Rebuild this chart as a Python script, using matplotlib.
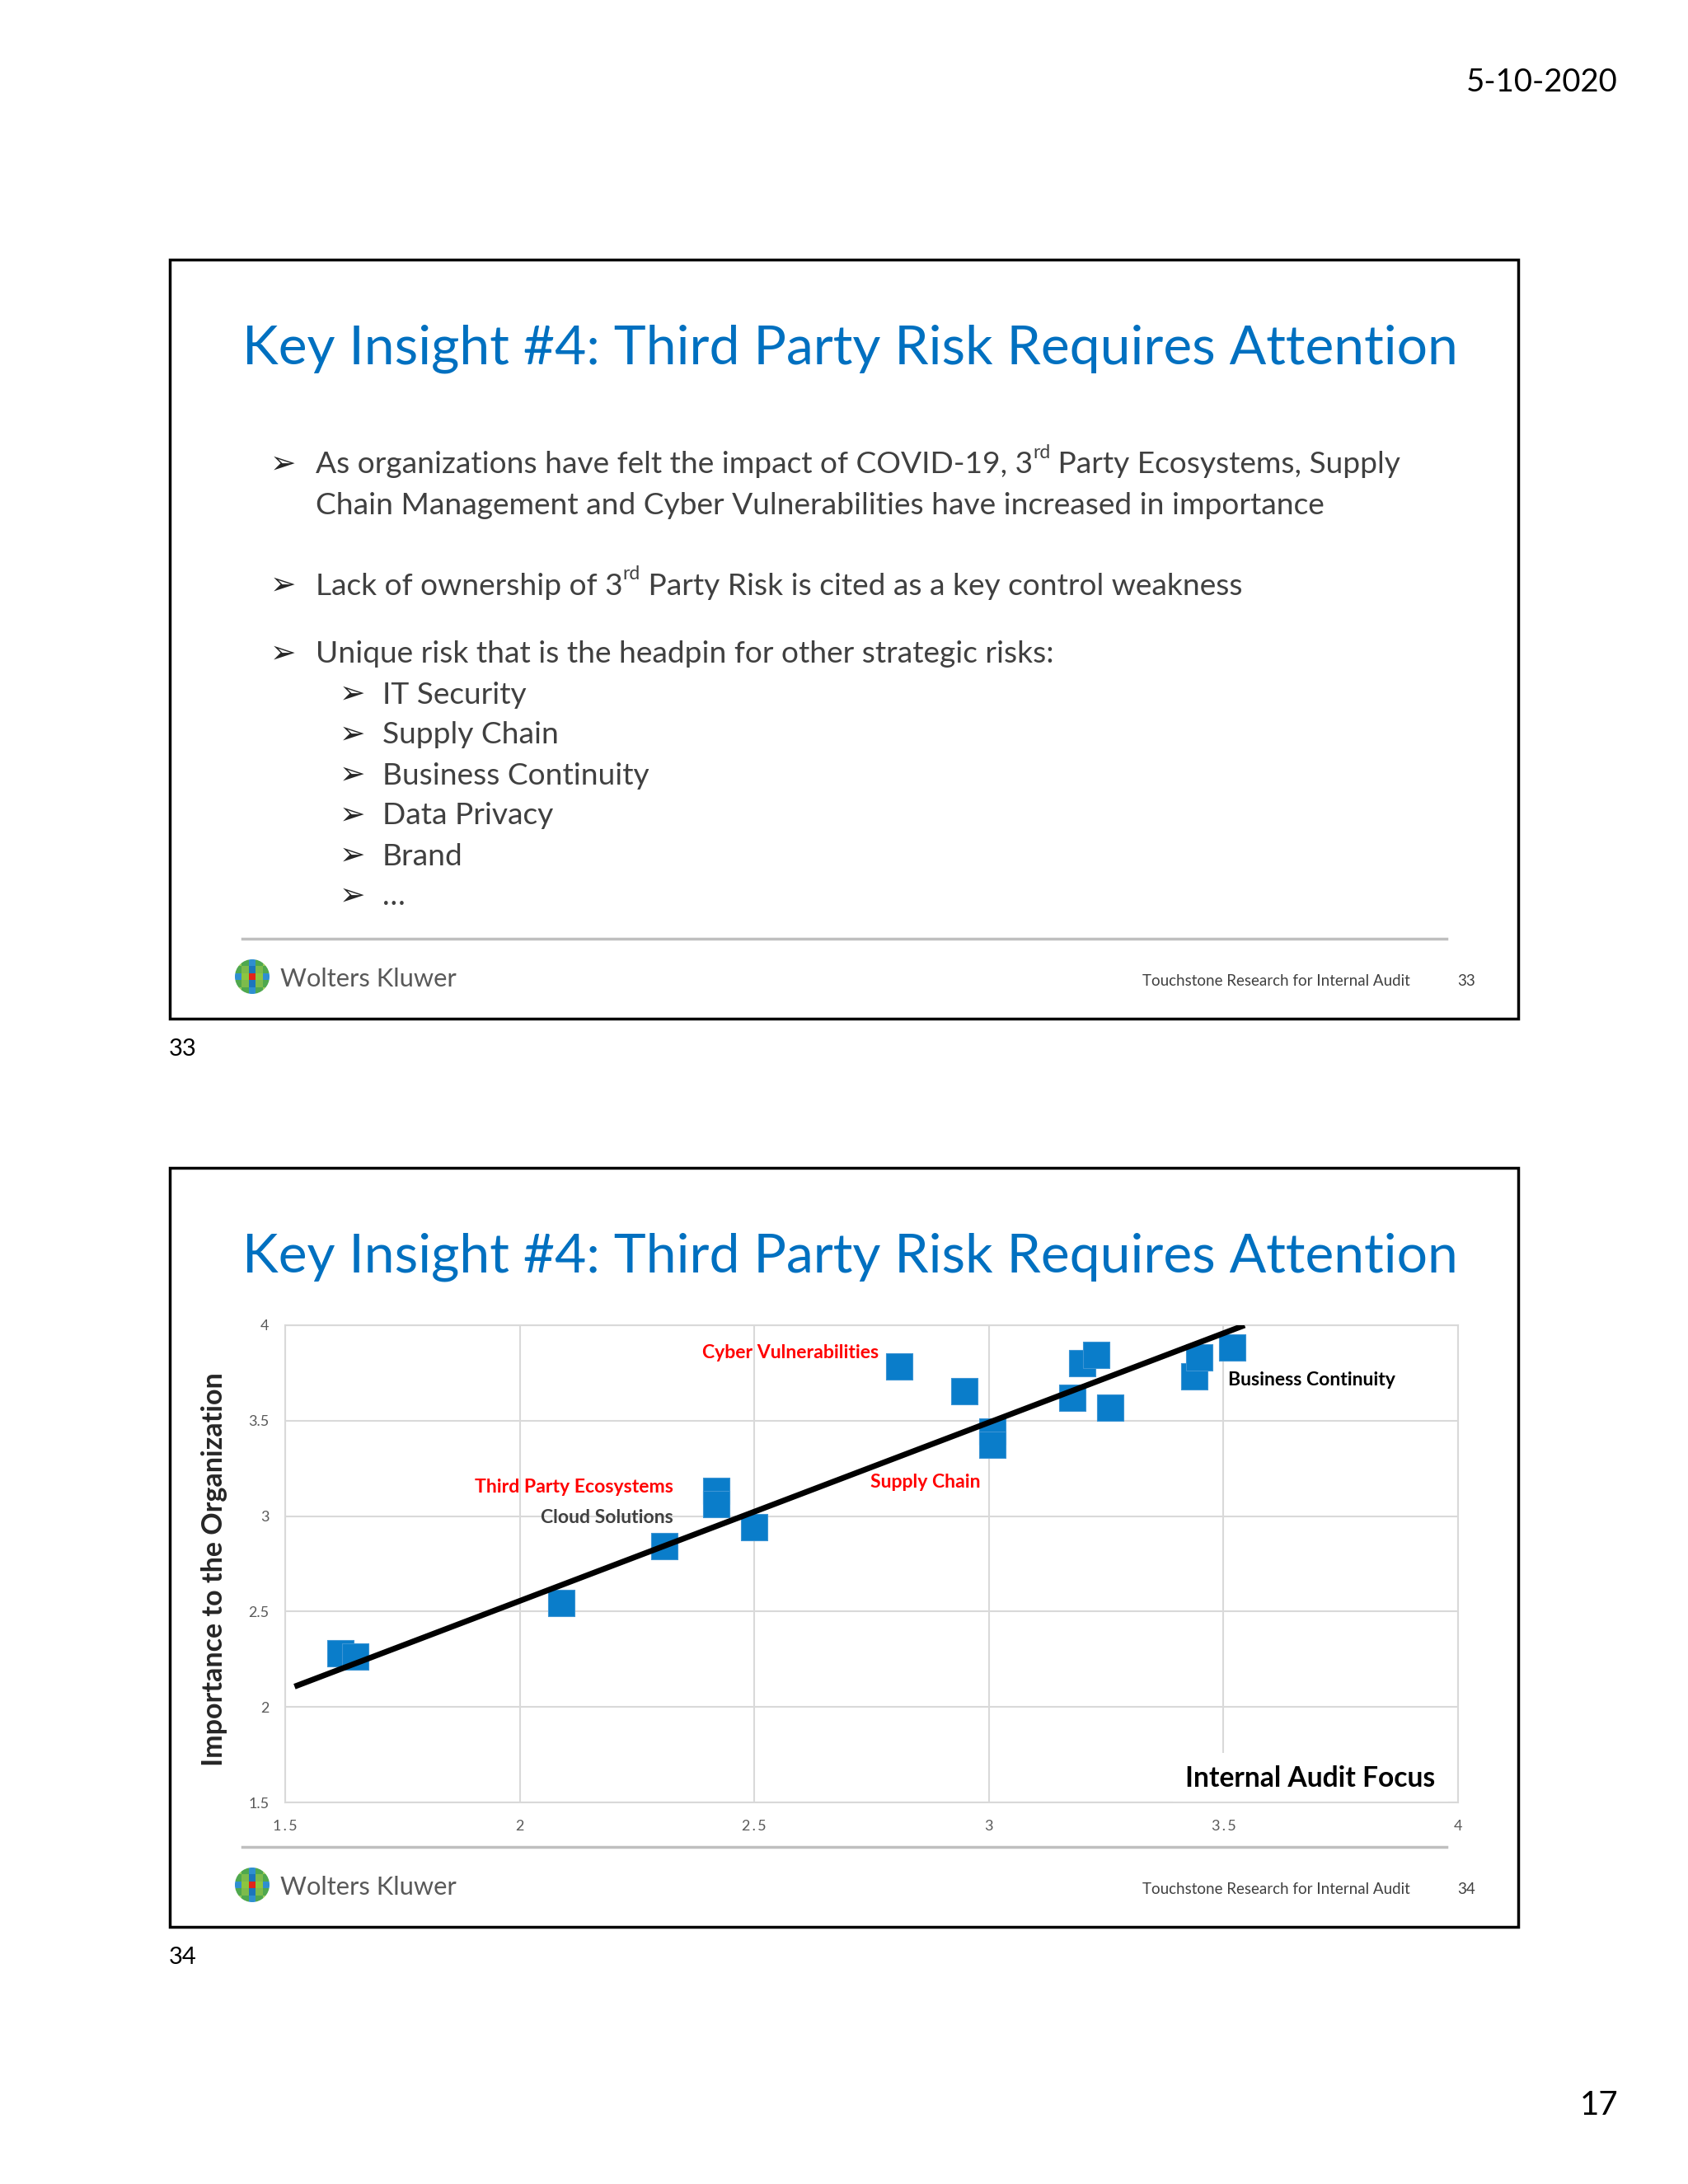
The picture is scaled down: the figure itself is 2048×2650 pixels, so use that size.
import matplotlib
matplotlib.use("Agg")
import matplotlib.pyplot as plt
from matplotlib.patches import Rectangle, Circle

plt.rcParams['font.family'] = ['Lato', 'DejaVu Sans']

# chart data (Internal Audit Focus vs Importance to the Organization)
audit_focus = [1.618, 1.649, 2.089, 2.308, 2.419, 2.419, 2.499, 2.809, 2.948,
               3.008, 3.008, 3.178, 3.199, 3.228, 3.258, 3.437, 3.448, 3.519]
importance = [2.283, 2.263, 2.543, 2.842, 3.133, 3.061, 2.942, 3.782, 3.653,
              3.441, 3.372, 3.620, 3.801, 3.844, 3.570, 3.734, 3.832, 3.882]
trend_x = [1.52, 3.545]
trend_y = [2.107, 4.0]

x_ticks = [1.5, 2, 2.5, 3, 3.5, 4]
x_tick_labels = ['1\u2009.\u20095', '2', '2\u2009.\u20095', '3', '3\u2009.\u20095', '4']
y_ticks = [1.5, 2, 2.5, 3, 3.5, 4]
y_tick_labels = ['1.5', '2', '2.5', '3', '3.5', '4']

# point labels: text, x, y, align, colour
point_labels = [
    ('Cyber Vulnerabilities', 2.765, 3.855, 'right', '#FF0000'),
    ('Business Continuity', 3.510, 3.713, 'left', '#000000'),
    ('Third Party Ecosystems', 2.327, 3.152, 'right', '#FF0000'),
    ('Cloud Solutions', 2.327, 2.992, 'right', '#404040'),
    ('Supply Chain', 2.748, 3.177, 'left', '#FF0000'),
]

title = 'Key Insight #4: Third Party Risk Requires Attention'
sub_bullets = ['IT Security', 'Supply Chain', 'Business Continuity', 'Data Privacy', 'Brand', '\u2026']

BLUE = '#0070C0'
GREY_TXT = '#404040'
BODY = 26.7

fig = plt.figure(figsize=(20.48, 26.5), dpi=100)
fig.patch.set_facecolor('white')
bg = fig.add_axes([0, 0, 1, 1])
bg.set_xlim(0, 2048)
bg.set_ylim(2650, 0)
bg.axis('off')
renderer = fig.canvas.get_renderer()


def runs(x, y, parts, size, color):
    # draw text pieces one after another, superscripts raised and smaller
    for txt, sup in parts:
        if sup:
            t = bg.text(x, y - size * 0.55, txt, fontsize=size * 0.62, color=color, va='center')
        else:
            t = bg.text(x, y, txt, fontsize=size, color=color, va='center')
        x += t.get_window_extent(renderer=renderer).width


def logo(cx, cy, r):
    circ = Circle((cx, cy), r, facecolor='none', edgecolor='none')
    bg.add_patch(circ)
    cols = [['#9CCB5A', '#4FA84E', '#2F8FD0', '#4FA84E', '#9CCB5A'],
            ['#4FA84E', '#7DBB4B', '#1B75BC', '#7DBB4B', '#4FA84E'],
            ['#2F8FD0', '#8CC63F', '#E2231A', '#8CC63F', '#2F8FD0'],
            ['#4FA84E', '#7DBB4B', '#1B75BC', '#7DBB4B', '#4FA84E'],
            ['#9CCB5A', '#4FA84E', '#2F8FD0', '#4FA84E', '#9CCB5A']]
    step = 2 * r / 5
    for i in range(5):
        for j in range(5):
            sq = Rectangle((cx - r + j * step, cy - r + i * step), step, step,
                           facecolor=cols[i][j], edgecolor='none')
            bg.add_patch(sq)
            sq.set_clip_path(circ)


def footer(y_line, y_txt, num):
    bg.plot([294, 1755], [y_line, y_line], color='#BFBFBF', lw=2.5)
    logo(306, y_txt - 3, 21)
    bg.text(340, y_txt, 'Wolters Kluwer', fontsize=22.2, color='#595959', va='center')
    bg.text(1711, y_txt + 3, 'Touchstone Research for Internal Audit', fontsize=13.5,
            color=GREY_TXT, va='center', ha='right')
    bg.text(1779, y_txt + 3, num, fontsize=13.5, color=GREY_TXT, va='center', ha='center')


def arrow(x, y):
    bg.text(x, y, '\u27a2', fontsize=27, color='#262626', va='center', ha='center',
            family=['DejaVu Sans'])


bg.text(1963, 100, '5-10-2020', fontsize=27.5, color='#000000', ha='right', va='center')
bg.text(1963, 2554, '17', fontsize=29, color='#000000', ha='right', va='center')

# slide 33
bg.add_patch(Rectangle((206, 315), 1636, 921, facecolor='white', edgecolor='black', lw=2.5))
bg.text(294, 423, title, fontsize=47.5, color=BLUE, va='center')
runs(383, 564, [('As organizations have felt the impact of COVID-19, 3', False), ('rd', True),
                (' Party Ecosystems, Supply', False)], BODY, GREY_TXT)
bg.text(383, 613, 'Chain Management and Cyber Vulnerabilities have increased in importance',
        fontsize=BODY, color=GREY_TXT, va='center')
runs(383, 711, [('Lack of ownership of 3', False), ('rd', True),
                (' Party Risk is cited as a key control weakness', False)], BODY, GREY_TXT)
bg.text(383, 794, 'Unique risk that is the headpin for other strategic risks:',
        fontsize=BODY, color=GREY_TXT, va='center')
for yy in [564, 711, 794]:
    arrow(344, yy)
for k, s in enumerate(sub_bullets):
    yy = 843 + k * 49
    arrow(428, yy)
    bg.text(464, yy, s, fontsize=BODY, color=GREY_TXT, va='center')
footer(1139, 1188, '33')
bg.text(205, 1273, '33', fontsize=21, color='#000000', va='center')

# slide 34
bg.add_patch(Rectangle((206, 1417), 1636, 921, facecolor='white', edgecolor='black', lw=2.5))
bg.text(294, 1525, title, fontsize=47.5, color=BLUE, va='center')
footer(2241, 2290, '34')
bg.text(205, 2375, '34', fontsize=21, color='#000000', va='center')

ax = fig.add_axes([346 / 2048, 1 - 2187 / 2650, 1423 / 2048, 579 / 2650])
ax.set_facecolor('white')
ax.set_axisbelow(True)
ax.grid(True, color='#D9D9D9', lw=1.5)
for sp in ax.spines.values():
    sp.set_color('#D9D9D9')
    sp.set_linewidth(1.5)
ax.set_xlim(1.5, 4)
ax.set_ylim(1.5, 4)
ax.set_xticks(x_ticks)
ax.set_xticklabels(x_tick_labels)
ax.set_yticks(y_ticks)
ax.set_yticklabels(y_tick_labels)
ax.tick_params(length=0, labelsize=13, labelcolor='#595959')
ax.tick_params(axis='x', pad=15)
ax.tick_params(axis='y', pad=14)

ax.scatter(audit_focus, importance, marker='s', s=540, color='#0A7DCA',
           edgecolors='#3C94D4', linewidths=0.8, zorder=3)
ax.plot(trend_x, trend_y, color='black', lw=5, solid_capstyle='butt', zorder=4)

for txt, x, y, ha, c in point_labels:
    ax.text(x, y, txt, fontsize=16.6, fontweight='bold', color=c, ha=ha, va='center', zorder=5)

ax.text(3.952, 1.625, 'Internal Audit Focus', fontsize=24.2, fontweight='bold', color='black',
        ha='right', va='center', zorder=1,
        bbox=dict(facecolor='white', edgecolor='none', pad=11))

ax.set_ylabel('Importance to the Organization', fontsize=24.5, fontweight='bold', color='#262626')
ax.yaxis.set_label_coords(-0.049, 0.489)

fig.savefig('out.png', dpi=100, facecolor='white')
